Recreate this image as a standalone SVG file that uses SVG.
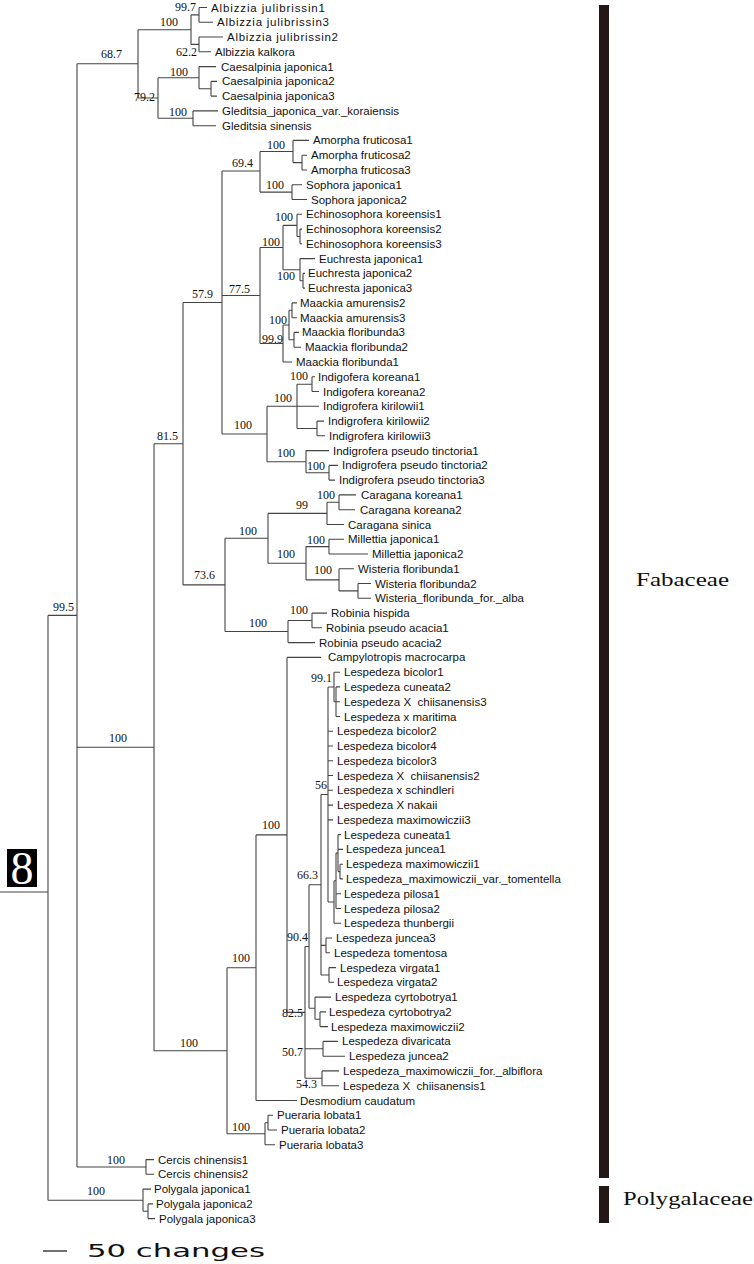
<svg xmlns="http://www.w3.org/2000/svg" width="754" height="1264" viewBox="0 0 754 1264">
<style>
.lf{font-family:"Liberation Sans",Arial,sans-serif;font-size:11.5px;fill:#111}
.bs{font-family:"Liberation Serif","Times New Roman",serif;font-size:12px;fill:#111;text-anchor:end}
.br path{fill:none;stroke:#444;stroke-width:1.1}
.fam{font-family:"Liberation Serif","Times New Roman",serif;font-size:19px;fill:#111}
.bar{fill:#231815}
</style>
<rect width="754" height="1264" fill="#fff"/>
<g id="connectors" class="br">
<path d="M0 892H48M48 615.4V1200.2M48 615.4H77M48 1200.2H143"/>
<path d="M77 63.8V1167M77 63.8H138M77 747.2H154M77 1167H146"/>
<path d="M138 29.7V98M138 29.7H191M138 98H158"/>
<path d="M191 14.9V44.4M191 14.9H199M191 44.4H199"/>
<path d="M199 7.5V22.3M199 7.5H207M199 22.3H213"/>
<path d="M199 37V51.8M199 37H223M199 51.8H211"/>
<path d="M158 77.7V118.3M158 77.7H199M158 118.3H193"/>
<path d="M199 66.6V88.8M199 66.6H216M199 88.8H211"/>
<path d="M211 81.4V96.1M211 81.4H217M211 96.1H217"/>
<path d="M193 110.9V125.7M193 110.9H218M193 125.7H216"/>
<path d="M154 443.7V1050.7M154 443.7H183M154 1050.7H227"/>
<path d="M183 302.5V584.9M183 302.5H222M183 584.9H225"/>
<path d="M222 171V434M222 171H260M222 295.5H260M222 434H267"/>
<path d="M260 151.5V192.1M260 151.5H293M260 192.1H292"/>
<path d="M293 140.4V162.6M293 140.4H309M293 162.6H302"/>
<path d="M302 155.2V170M302 155.2H307M302 170H307"/>
<path d="M292 184.7V199.5M292 184.7H302M292 199.5H307"/>
<path d="M260 247.5V343.5M260 247.5H283M260 343.5H283"/>
<path d="M283 225.4V269.7M283 225.4H297M283 269.7H300"/>
<path d="M297 214.3V236.5M297 214.3H302M297 236.5H300"/>
<path d="M300 229.1V243.8M300 229.1H302M300 243.8H302"/>
<path d="M300 258.6V280.8M300 258.6H315M300 280.8H303"/>
<path d="M303 273.4V288.1M303 273.4H305M303 288.1H305"/>
<path d="M283 325V362M283 325H289M283 362H292"/>
<path d="M289 310.3V339.8M289 310.3H292M289 339.8H294"/>
<path d="M292 302.9V317.7M292 302.9H297M292 317.7H297"/>
<path d="M294 332.4V347.2M294 332.4H299M294 347.2H301"/>
<path d="M267 406.3V461.7M267 406.3H297M267 461.7H306"/>
<path d="M297 384.2V428.5M297 384.2H312M297 406.3H319M297 428.5H317"/>
<path d="M312 376.8V391.5M312 376.8H315M312 391.5H319"/>
<path d="M317 421.1V435.8M317 421.1H324M317 435.8H325"/>
<path d="M306 450.6V472.8M306 450.6H329M306 472.8H329"/>
<path d="M329 465.4V480.1M329 465.4H338M329 480.1H335"/>
<path d="M225 538.3V631.5M225 538.3H268M225 631.5H288"/>
<path d="M268 513.4V563.2M268 513.4H327M268 563.2H306"/>
<path d="M327 502.3V524.5M327 502.3H339M327 524.5H344"/>
<path d="M339 494.9V509.7M339 494.9H356M339 509.7H355"/>
<path d="M306 546.6V579.9M306 546.6H329M306 579.9H339"/>
<path d="M329 539.2V554M329 539.2H344M329 554H368"/>
<path d="M339 568.8V590.9M339 568.8H354M339 590.9H358"/>
<path d="M358 583.5V598.3M358 583.5H371M358 598.3H371"/>
<path d="M288 620.5V642.6M288 620.5H312M288 642.6H315"/>
<path d="M312 613.1V627.8M312 613.1H327M312 627.8H322"/>
<path d="M227 967.7V1133.7M227 967.7H256M227 1133.7H265"/>
<path d="M256 834.9V1100.5M256 834.9H287M256 1100.5H297"/>
<path d="M287 657.4V1012.4M287 657.4H321M287 1012.4H305"/>
<path d="M305 946.5V1078.3M305 946.5H309M305 1048.8H323M305 1078.3H322"/>
<path d="M309 884.7V1008.2M309 884.7H321M309 1008.2H315"/>
<path d="M321 794.5V975M321 794.5H328M321 945.4H326M321 975H329"/>
<path d="M328 687V902M328 687H334M328 731.2H333M328 746H333M328 760.8H333M328 775.5H333M328 790.3H333M328 805.1H333M328 819.9H333M328 902H334"/>
<path d="M334 672.2V701.7M334 672.2H340M334 701.7H336"/>
<path d="M336 686.9V716.5M336 686.9H340M336 701.7H340M336 716.5H340"/>
<path d="M334 880.8V923.2M334 880.8H336M334 923.2H341"/>
<path d="M336 853.1V908.5M336 853.1H338M336 893.7H341M336 908.5H341"/>
<path d="M338 834.6V871.6M338 834.6H341M338 849.4H343M338 871.6H340"/>
<path d="M340 864.2V878.9M340 864.2H343M340 878.9H343"/>
<path d="M326 938V952.8M326 938H332M326 952.8H330"/>
<path d="M329 967.6V982.3M329 967.6H336M329 982.3H334"/>
<path d="M315 997.1V1019.3M315 997.1H331M315 1019.3H320"/>
<path d="M320 1011.9V1026.6M320 1011.9H326M320 1026.6H328"/>
<path d="M323 1041.4V1056.2M323 1041.4H338M323 1056.2H345"/>
<path d="M322 1070.9V1085.7M322 1070.9H339M322 1085.7H339"/>
<path d="M265 1122.7V1144.8M265 1122.7H268M265 1144.8H275"/>
<path d="M268 1115.3V1130M268 1115.3H273M268 1130H277"/>
<path d="M146 1159.6V1174.3M146 1159.6H154M146 1174.3H154"/>
<path d="M143 1189.1V1211.3M143 1189.1H151M143 1211.3H148"/>
<path d="M148 1203.9V1218.6M148 1203.9H153M148 1218.6H155"/>
</g>
<g id="support-values">
<text class="bs" x="196" y="11">99.7</text>
<text class="bs" x="178" y="26">100</text>
<text class="bs" x="197" y="56">62.2</text>
<text class="bs" x="122" y="58">68.7</text>
<text class="bs" x="188" y="76">100</text>
<text class="bs" x="155" y="101">79.2</text>
<text class="bs" x="187" y="116">100</text>
<text class="bs" x="285" y="149">100</text>
<text class="bs" x="253" y="167">69.4</text>
<text class="bs" x="284" y="189">100</text>
<text class="bs" x="293" y="221">100</text>
<text class="bs" x="280" y="246">100</text>
<text class="bs" x="295" y="280">100</text>
<text class="bs" x="250" y="293">77.5</text>
<text class="bs" x="213" y="298">57.9</text>
<text class="bs" x="287" y="324">100</text>
<text class="bs" x="283" y="343">99.9</text>
<text class="bs" x="308" y="380">100</text>
<text class="bs" x="292" y="402">100</text>
<text class="bs" x="252" y="429">100</text>
<text class="bs" x="178" y="440">81.5</text>
<text class="bs" x="295" y="457">100</text>
<text class="bs" x="325" y="470">100</text>
<text class="bs" x="335" y="499">100</text>
<text class="bs" x="308" y="509">99</text>
<text class="bs" x="257" y="535">100</text>
<text class="bs" x="325" y="544">100</text>
<text class="bs" x="295" y="558">100</text>
<text class="bs" x="332" y="574">100</text>
<text class="bs" x="215" y="579">73.6</text>
<text class="bs" x="74" y="611">99.5</text>
<text class="bs" x="308" y="614">100</text>
<text class="bs" x="267" y="627">100</text>
<text class="bs" x="332" y="682">99.1</text>
<text class="bs" x="127" y="742">100</text>
<text class="bs" x="327" y="789">56</text>
<text class="bs" x="280" y="829">100</text>
<text class="bs" x="318" y="879">66.3</text>
<text class="bs" x="308" y="941">90.4</text>
<text class="bs" x="250" y="962">100</text>
<text class="bs" x="303" y="1017">82.5</text>
<text class="bs" x="198" y="1047">100</text>
<text class="bs" x="303" y="1056">50.7</text>
<text class="bs" x="317" y="1088">54.3</text>
<text class="bs" x="250" y="1131">100</text>
<text class="bs" x="125" y="1164">100</text>
<text class="bs" x="105" y="1195">100</text>
</g>
<g id="leaves">
<g id="t0"><text class="lf" x="211" y="11.5" textLength="114" lengthAdjust="spacing">Albizzia julibrissin1</text></g>
<g id="t1"><text class="lf" x="217" y="26.3" textLength="112" lengthAdjust="spacing">Albizzia julibrissin3</text></g>
<g id="t2"><text class="lf" x="227" y="41" textLength="111" lengthAdjust="spacing">Albizzia julibrissin2</text></g>
<g id="t3"><text class="lf" x="215" y="55.8">Albizzia kalkora</text></g>
<g id="t4"><text class="lf" x="221" y="70.6">Caesalpinia japonica1</text></g>
<g id="t5"><text class="lf" x="222" y="85.4">Caesalpinia japonica2</text></g>
<g id="t6"><text class="lf" x="222" y="100.1">Caesalpinia japonica3</text></g>
<g id="t7"><text class="lf" x="222" y="114.9">Gleditsia_japonica_var._koraiensis</text></g>
<g id="t8"><text class="lf" x="222" y="129.7">Gleditsia sinensis</text></g>
<g id="t9"><text class="lf" x="313" y="144.4">Amorpha fruticosa1</text></g>
<g id="t10"><text class="lf" x="311" y="159.2">Amorpha fruticosa2</text></g>
<g id="t11"><text class="lf" x="311" y="174">Amorpha fruticosa3</text></g>
<g id="t12"><text class="lf" x="306" y="188.7">Sophora japonica1</text></g>
<g id="t13"><text class="lf" x="311" y="203.5">Sophora japonica2</text></g>
<g id="t14"><text class="lf" x="306" y="218.3">Echinosophora koreensis1</text></g>
<g id="t15"><text class="lf" x="306" y="233.1">Echinosophora koreensis2</text></g>
<g id="t16"><text class="lf" x="306" y="247.8">Echinosophora koreensis3</text></g>
<g id="t17"><text class="lf" x="319" y="262.6">Euchresta japonica1</text></g>
<g id="t18"><text class="lf" x="308" y="277.4">Euchresta japonica2</text></g>
<g id="t19"><text class="lf" x="308" y="292.1">Euchresta japonica3</text></g>
<g id="t20"><text class="lf" x="300" y="306.9">Maackia amurensis2</text></g>
<g id="t21"><text class="lf" x="300" y="321.7">Maackia amurensis3</text></g>
<g id="t22"><text class="lf" x="302" y="336.4">Maackia floribunda3</text></g>
<g id="t23"><text class="lf" x="305" y="351.2">Maackia floribunda2</text></g>
<g id="t24"><text class="lf" x="296" y="366">Maackia floribunda1</text></g>
<g id="t25"><text class="lf" x="318" y="380.8">Indigofera koreana1</text></g>
<g id="t26"><text class="lf" x="323" y="395.5">Indigofera koreana2</text></g>
<g id="t27"><text class="lf" x="323" y="410.3">Indigrofera kirilowii1</text></g>
<g id="t28"><text class="lf" x="328" y="425.1">Indigrofera kirilowii2</text></g>
<g id="t29"><text class="lf" x="329" y="439.8">Indigrofera kirilowii3</text></g>
<g id="t30"><text class="lf" x="333" y="454.6">Indigrofera pseudo tinctoria1</text></g>
<g id="t31"><text class="lf" x="342" y="469.4">Indigrofera pseudo tinctoria2</text></g>
<g id="t32"><text class="lf" x="339" y="484.1">Indigrofera pseudo tinctoria3</text></g>
<g id="t33"><text class="lf" x="361" y="498.9">Caragana koreana1</text></g>
<g id="t34"><text class="lf" x="360" y="513.7">Caragana koreana2</text></g>
<g id="t35"><text class="lf" x="348" y="528.5">Caragana sinica</text></g>
<g id="t36"><text class="lf" x="348" y="543.2">Millettia japonica1</text></g>
<g id="t37"><text class="lf" x="372" y="558">Millettia japonica2</text></g>
<g id="t38"><text class="lf" x="358" y="572.8">Wisteria floribunda1</text></g>
<g id="t39"><text class="lf" x="375" y="587.5">Wisteria floribunda2</text></g>
<g id="t40"><text class="lf" x="375" y="602.3">Wisteria_floribunda_for._alba</text></g>
<g id="t41"><text class="lf" x="331" y="617.1">Robinia hispida</text></g>
<g id="t42"><text class="lf" x="326" y="631.8">Robinia pseudo acacia1</text></g>
<g id="t43"><text class="lf" x="319" y="646.6">Robinia pseudo acacia2</text></g>
<g id="t44"><text class="lf" x="328" y="661.4">Campylotropis macrocarpa</text></g>
<g id="t45"><text class="lf" x="344" y="676.2">Lespedeza bicolor1</text></g>
<g id="t46"><text class="lf" x="344" y="690.9">Lespedeza cuneata2</text></g>
<g id="t47"><text class="lf" x="344" y="705.7">Lespedeza X&#160; chiisanensis3</text></g>
<g id="t48"><text class="lf" x="344" y="720.5">Lespedeza x maritima</text></g>
<g id="t49"><text class="lf" x="337" y="735.2">Lespedeza bicolor2</text></g>
<g id="t50"><text class="lf" x="337" y="750">Lespedeza bicolor4</text></g>
<g id="t51"><text class="lf" x="337" y="764.8">Lespedeza bicolor3</text></g>
<g id="t52"><text class="lf" x="337" y="779.5">Lespedeza X&#160; chiisanensis2</text></g>
<g id="t53"><text class="lf" x="337" y="794.3">Lespedeza x schindleri</text></g>
<g id="t54"><text class="lf" x="337" y="809.1">Lespedeza X nakaii</text></g>
<g id="t55"><text class="lf" x="337" y="823.9">Lespedeza maximowiczii3</text></g>
<g id="t56"><text class="lf" x="344" y="838.6">Lespedeza cuneata1</text></g>
<g id="t57"><text class="lf" x="346" y="853.4">Lespedeza juncea1</text></g>
<g id="t58"><text class="lf" x="346" y="868.2">Lespedeza maximowiczii1</text></g>
<g id="t59"><text class="lf" x="346" y="882.9">Lespedeza_maximowiczii_var._tomentella</text></g>
<g id="t60"><text class="lf" x="344" y="897.7">Lespedeza pilosa1</text></g>
<g id="t61"><text class="lf" x="344" y="912.5">Lespedeza pilosa2</text></g>
<g id="t62"><text class="lf" x="344" y="927.2">Lespedeza thunbergii</text></g>
<g id="t63"><text class="lf" x="336" y="942">Lespedeza juncea3</text></g>
<g id="t64"><text class="lf" x="334" y="956.8">Lespedeza tomentosa</text></g>
<g id="t65"><text class="lf" x="340" y="971.6">Lespedeza virgata1</text></g>
<g id="t66"><text class="lf" x="337" y="986.3">Lespedeza virgata2</text></g>
<g id="t67"><text class="lf" x="335" y="1001.1">Lespedeza cyrtobotrya1</text></g>
<g id="t68"><text class="lf" x="329" y="1015.9">Lespedeza cyrtobotrya2</text></g>
<g id="t69"><text class="lf" x="331" y="1030.6">Lespedeza maximowiczii2</text></g>
<g id="t70"><text class="lf" x="342" y="1045.4">Lespedeza divaricata</text></g>
<g id="t71"><text class="lf" x="349" y="1060.2">Lespedeza juncea2</text></g>
<g id="t72"><text class="lf" x="343" y="1074.9">Lespedeza_maximowiczii_for._albiflora</text></g>
<g id="t73"><text class="lf" x="343" y="1089.7">Lespedeza X&#160; chiisanensis1</text></g>
<g id="t74"><text class="lf" x="300" y="1104.5">Desmodium caudatum</text></g>
<g id="t75"><text class="lf" x="277" y="1119.3">Pueraria lobata1</text></g>
<g id="t76"><text class="lf" x="281" y="1134">Pueraria lobata2</text></g>
<g id="t77"><text class="lf" x="279" y="1148.8">Pueraria lobata3</text></g>
<g id="t78"><text class="lf" x="158" y="1163.6">Cercis chinensis1</text></g>
<g id="t79"><text class="lf" x="158" y="1178.3">Cercis chinensis2</text></g>
<g id="t80"><text class="lf" x="154" y="1193.1">Polygala japonica1</text></g>
<g id="t81"><text class="lf" x="156" y="1207.9">Polygala japonica2</text></g>
<g id="t82"><text class="lf" x="159" y="1222.6">Polygala japonica3</text></g>
</g>
<g id="root-box">
<rect x="7" y="849" width="30" height="38" fill="#000"/>
<text x="22" y="884" text-anchor="middle" font-family="'Liberation Serif','Times New Roman',serif" font-size="46" fill="#fff">8</text>
</g>
<g id="fabaceae">
<rect class="bar" x="599" y="5" width="10" height="1173"/>
<text class="fam" x="636" y="586" textLength="93" lengthAdjust="spacingAndGlyphs">Fabaceae</text>
</g>
<g id="polygalaceae">
<rect class="bar" x="599" y="1186" width="10" height="37"/>
<text class="fam" x="623" y="1205" textLength="130" lengthAdjust="spacingAndGlyphs">Polygalaceae</text>
</g>
<g id="scale">
<path d="M43 1251H67" stroke="#111" stroke-width="1.2"/>
<text x="87" y="1257" font-family="'DejaVu Sans',sans-serif" font-size="17" fill="#111" textLength="178" lengthAdjust="spacingAndGlyphs">50 changes</text>
</g>
</svg>
